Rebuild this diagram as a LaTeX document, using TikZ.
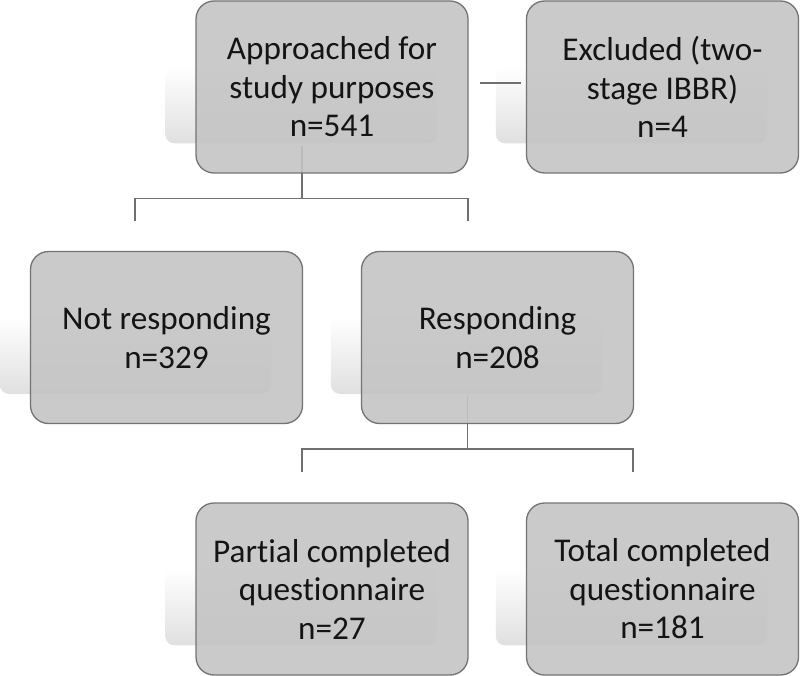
\documentclass[tikz,border=0pt]{standalone}
\usepackage{fontspec}
\setmainfont[Ligatures=NoCommon]{Carlito}
\usetikzlibrary{calc,backgrounds}
\definecolor{boxgray}{HTML}{C4C4C4}
\definecolor{boxedge}{HTML}{737373}
\definecolor{linegray}{HTML}{707070}
\definecolor{shadowgray}{HTML}{E0E0E0}
\tikzset{
  flowbox/.style={draw=boxedge, line width=1.3pt, fill=boxgray, fill opacity=0.9, text opacity=1,
    rounded corners=18pt, minimum width=272pt, minimum height=172pt, align=center,
    inner sep=0pt, font=\fontsize{33.2}{38.5}\selectfont, text=black!92},
  conn/.style={draw=linegray, line width=1.4pt},
  shadowbox/.style={top color=white, bottom color=shadowgray, draw=none, rounded corners=9pt}
}
\begin{document}
\begin{tikzpicture}[x=1pt,y=-1pt]
\useasboundingbox (0,0) rectangle (800,676);
\node[flowbox] (app) at (332,87) {Approached for\\study purposes\\n=541};
\node[flowbox] (exc) at (662.5,87) {Excluded (two-\\stage IBBR)\\n=4};
\node[flowbox] (nr) at (166.5,337.5) {Not responding\\n=329};
\node[flowbox] (resp) at (497.5,337.5) {Responding\\n=208};
\node[flowbox] (part) at (332,589) {Partial completed\\questionnaire\\n=27};
\node[flowbox] (tot) at (662.5,589) {Total completed\\questionnaire\\n=181};
\begin{pgfonlayer}{background}
  \foreach \b in {app,exc,nr,resp,part,tot}{
    \path[shadowbox] ($(\b.north west)+(-30,66)$) rectangle ($(\b.north east)+(-32,143)$);
  }
  % excluded link
  \draw[conn] ([shift={(11,-4)}]app.east) -- ([shift={(-5,-4)}]exc.west);
  % tree 1
  \coordinate (t1) at ($(app.south)+(-30,-28)$);
  \coordinate (j1) at ($(app.south)+(-30,25)$);
  \coordinate (d1a) at ($(nr.north)+(-31.5,-30)$);
  \coordinate (d1b) at ($(resp.north)+(-29.5,-30)$);
  \draw[conn] (t1) -- (j1);
  \draw[conn] (d1a) -- (d1a |- j1) -- (d1b |- j1) -- (d1b);
  % tree 2
  \coordinate (t2) at ($(resp.south)+(-30,-28)$);
  \coordinate (j2) at ($(resp.south)+(-30,25)$);
  \coordinate (d2a) at ($(part.north)+(-30,-30)$);
  \coordinate (d2b) at ($(tot.north)+(-29.5,-30)$);
  \draw[conn] (t2) -- (j2);
  \draw[conn] (d2a) -- (d2a |- j2) -- (d2b |- j2) -- (d2b);
\end{pgfonlayer}
\end{tikzpicture}
\end{document}
